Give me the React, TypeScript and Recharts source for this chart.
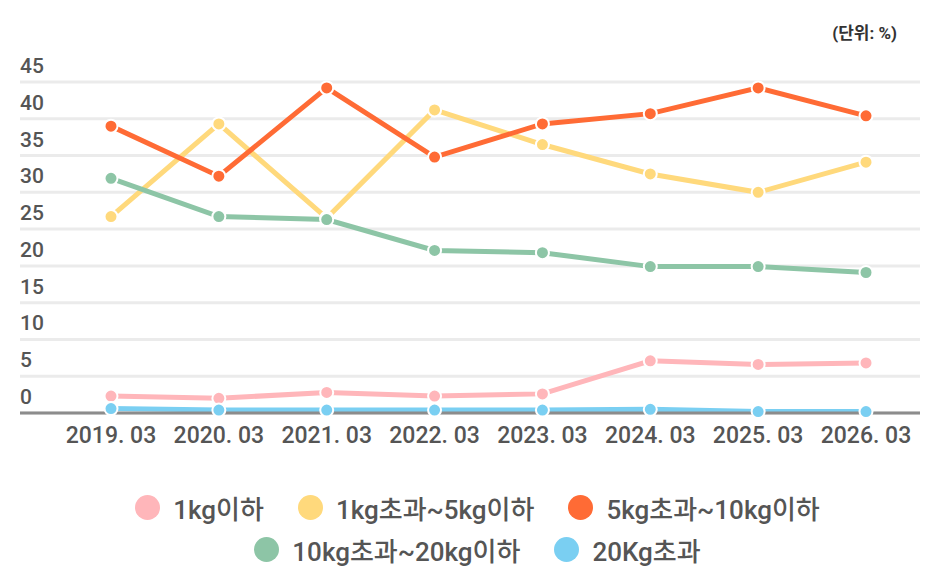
import React from "react"
import {
  LineChart,
  Line,
  XAxis,
  YAxis,
  CartesianGrid,
  Legend,
} from "recharts"

const periods = ["2019. 03", "2020. 03", "2021. 03", "2022. 03", "2023. 03", "2024. 03", "2025. 03", "2026. 03"]
const under1kg = [2.3, 2.0, 2.8, 2.3, 2.6, 7.1, 6.6, 6.8]
const from1to5kg = [26.7, 39.3, 26.5, 41.2, 36.5, 32.5, 30.0, 34.1]
const from5to10kg = [39.0, 32.2, 44.2, 34.8, 39.3, 40.7, 44.2, 40.4]
const from10to20kg = [31.9, 26.7, 26.3, 22.1, 21.8, 19.9, 19.9, 19.1]
const over20kg = [0.6, 0.4, 0.4, 0.4, 0.4, 0.5, 0.2, 0.2]
const yTicks = [0, 5, 10, 15, 20, 25, 30, 35, 40, 45]

const series = [
  { key: "under1kg", name: "1kg이하", color: "#FFB6BA", values: under1kg },
  { key: "from1to5kg", name: "1kg초과~5kg이하", color: "#FFD97C", values: from1to5kg },
  { key: "from5to10kg", name: "5kg초과~10kg이하", color: "#FF6B35", values: from5to10kg },
  { key: "from10to20kg", name: "10kg초과~20kg이하", color: "#8DC5A6", values: from10to20kg },
  { key: "over20kg", name: "20Kg초과", color: "#7ACFF2", values: over20kg },
]

const data = periods.map((label, i) => {
  const row: Record<string, string | number> = { label }
  series.forEach((s) => {
    row[s.key] = s.values[i]
  })
  return row
})

const FONT = "Roboto, 'Noto Sans CJK KR', sans-serif"

const renderYTick = (props: any) => {
  const { y, payload } = props
  return (
    <text x={20} y={y - 9} textAnchor="start" fill="#555" fontSize={21} fontWeight={500} fontFamily={FONT}>
      {payload.value}
    </text>
  )
}

const LegendItem = ({ name, color }: { name: string; color: string }) => (
  <div style={{ display: "flex", alignItems: "center", margin: "0 17px" }}>
    <span
      style={{
        display: "inline-block",
        width: 25,
        height: 25,
        borderRadius: "50%",
        background: color,
        marginRight: 13,
      }}
    />
    <span style={{ fontSize: 26, fontWeight: 500, color: "#555", fontFamily: FONT }}>{name}</span>
  </div>
)

const renderLegend = () => {
  const rows = [series.slice(0, 3), series.slice(3)]
  return (
    <div style={{ paddingTop: 10, paddingLeft: 16 }}>
      {rows.map((row, i) => (
        <div key={i} style={{ display: "flex", justifyContent: "center", height: 42, alignItems: "center" }}>
          {row.map((s) => (
            <LegendItem key={s.key} name={s.name} color={s.color} />
          ))}
        </div>
      ))}
    </div>
  )
}

export default function App() {
  return (
    <div style={{ position: "absolute", left: 0, top: 0, width: 934, height: 586, background: "#fff" }}>
      <div
        style={{
          position: "absolute",
          right: 37,
          top: 19,
          fontSize: 17,
          fontWeight: 700,
          color: "#333",
          fontFamily: FONT,
        }}
      >
        (단위: %)
      </div>
      <LineChart
        width={934}
        height={586}
        data={data}
        margin={{ top: 82, right: 14, left: 19, bottom: 10 }}
      >
        <CartesianGrid vertical={false} stroke="#ebebeb" strokeWidth={3} />
        <XAxis
          dataKey="label"
          interval={0}
          height={63}
          padding={{ left: 91, right: 54 }}
          tickLine={false}
          tickSize={0}
          tickMargin={14}
          axisLine={{ stroke: "#8c8c8c", strokeWidth: 3 }}
          tick={{ fill: "#555", fontSize: 23, fontWeight: 500, fontFamily: FONT }}
        />
        <YAxis
          width={1}
          domain={[0, 45]}
          ticks={yTicks}
          interval={0}
          axisLine={false}
          tickLine={false}
          tick={renderYTick}
        />
        <Legend verticalAlign="bottom" height={100} content={renderLegend} />
        {series.map((s) => (
          <Line
            key={s.key}
            type="linear"
            dataKey={s.key}
            name={s.name}
            stroke={s.color}
            strokeWidth={5}
            dot={{ r: 6.5, fill: s.color, stroke: "#fff", strokeWidth: 2 }}
            activeDot={false}
            isAnimationActive={false}
          />
        ))}
      </LineChart>
    </div>
  )
}
